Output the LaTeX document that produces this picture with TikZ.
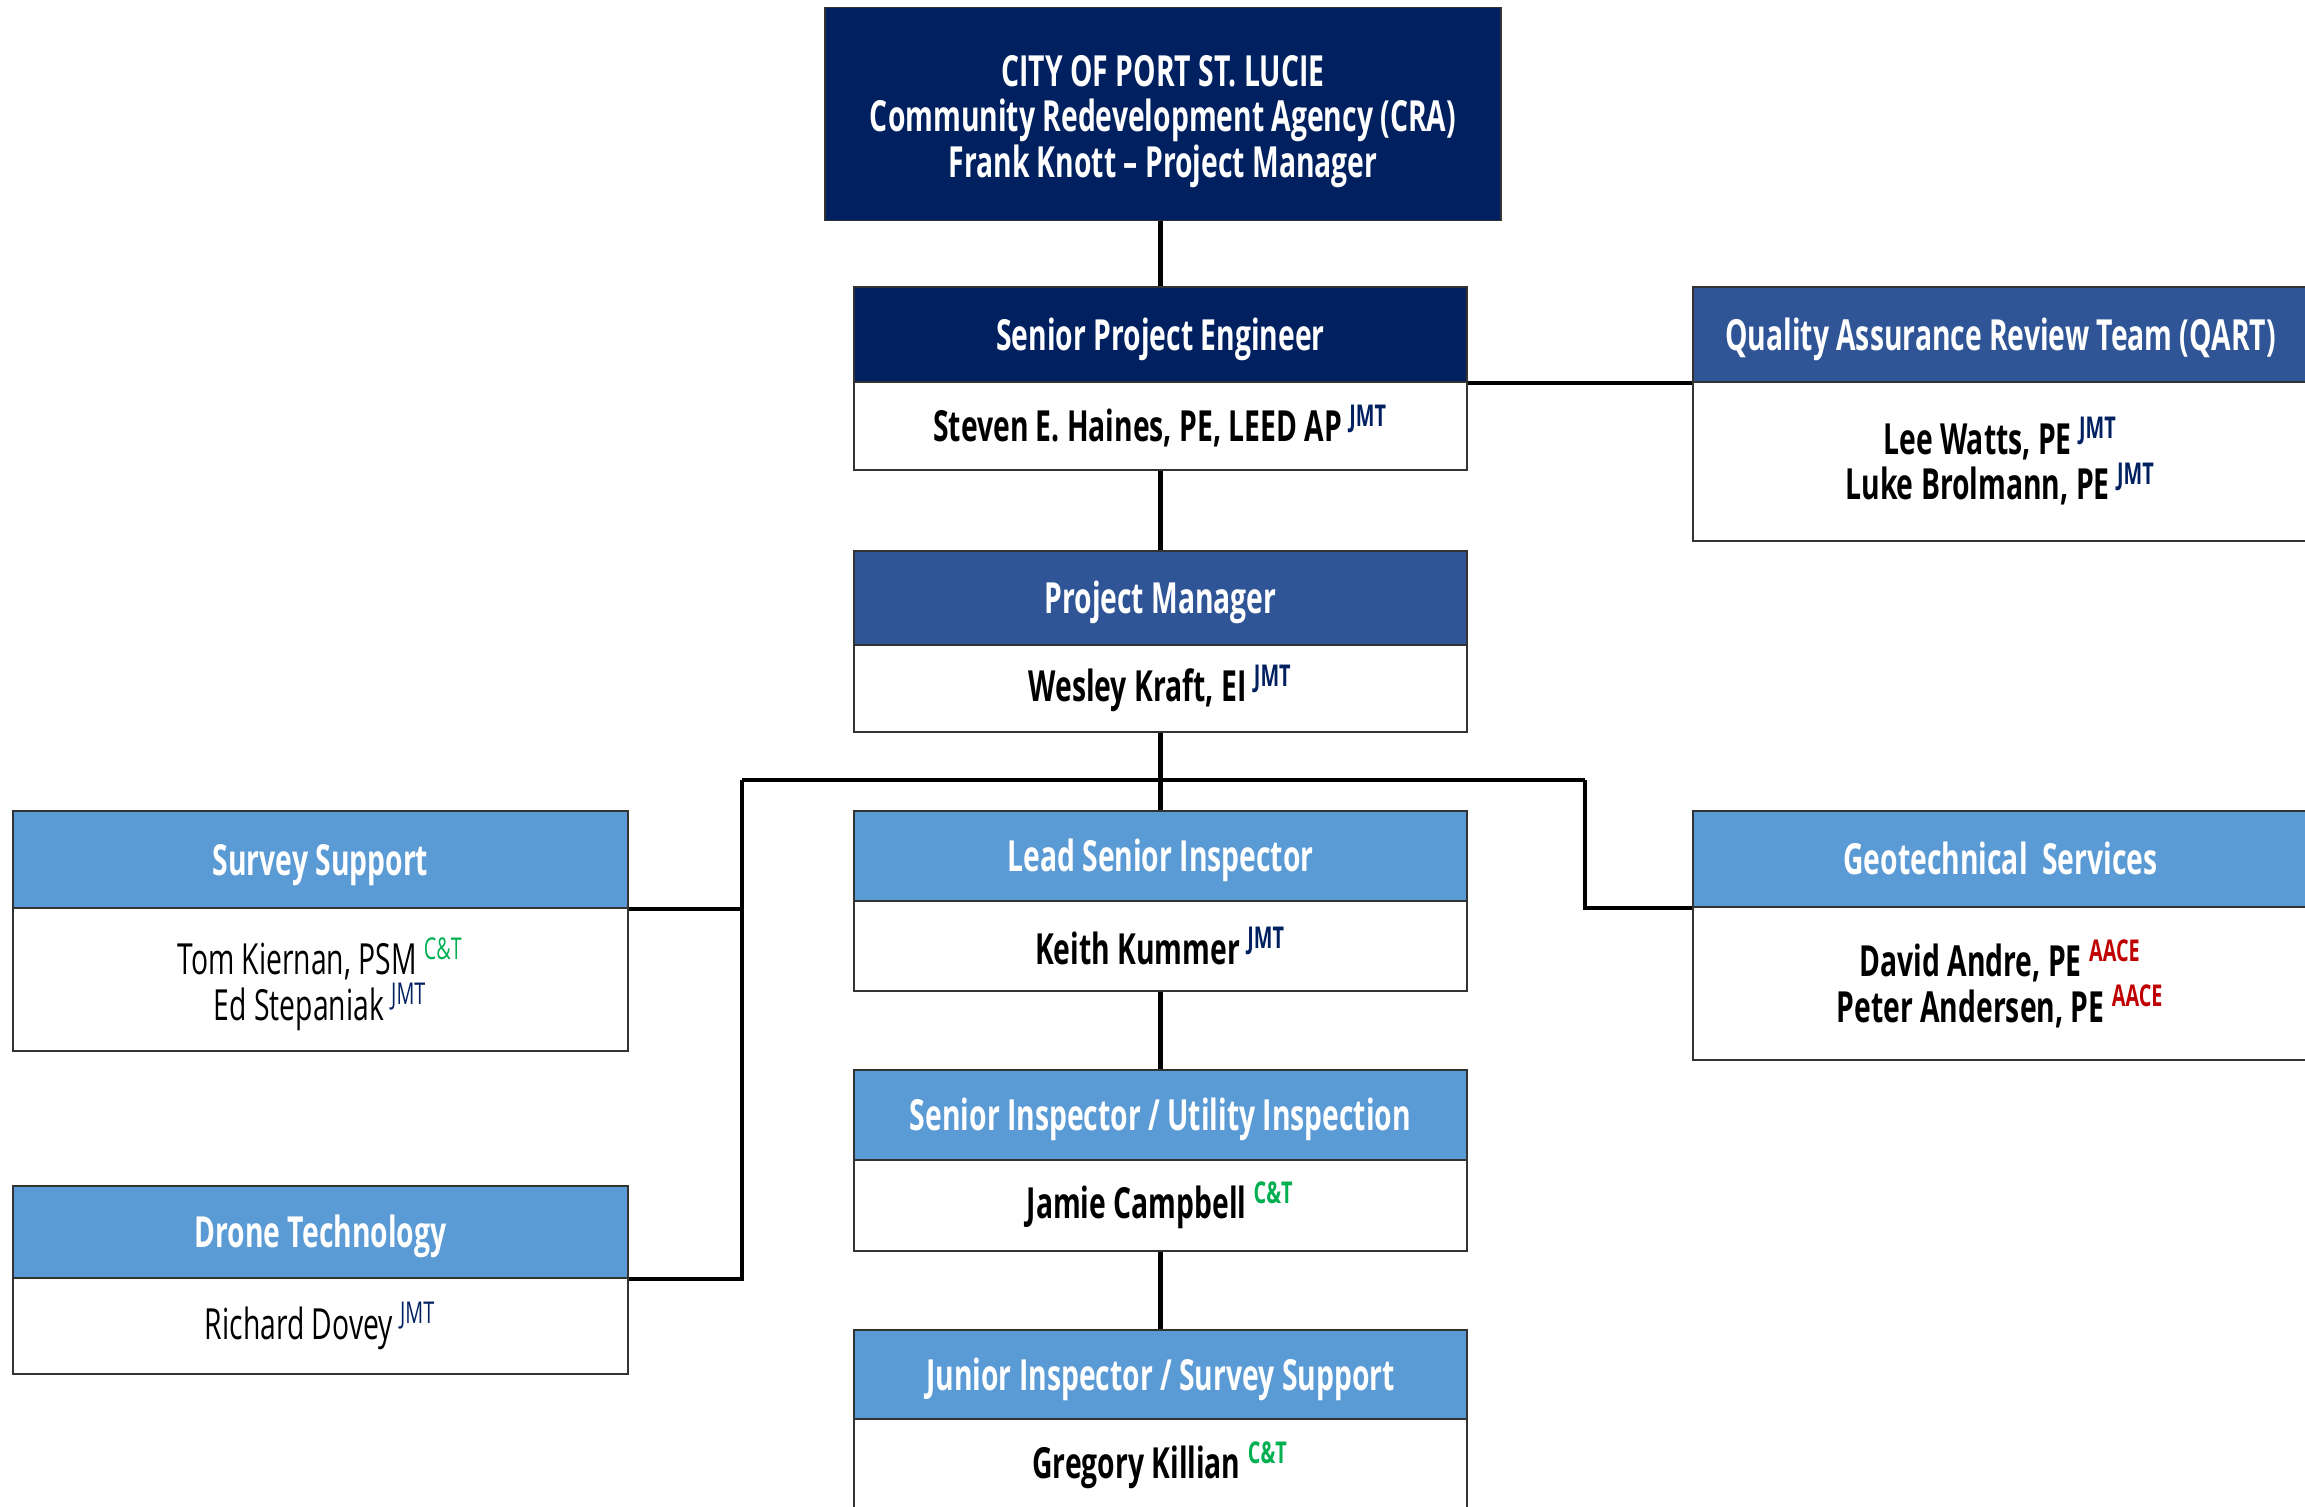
\documentclass[tikz,border=0pt]{standalone}
\usepackage{fontspec}
\setmainfont{Open Sans}[FakeStretch=0.66]
\usepackage{tikz}
\usepackage{xcolor}

\definecolor{navy}{HTML}{002060}
\definecolor{midblue}{HTML}{2F5597}
\definecolor{lightblue}{HTML}{5B9BD5}
\definecolor{ctgreen}{HTML}{00B050}
\definecolor{aacered}{HTML}{C00000}
\newcommand{\firm}[2]{\textsuperscript{\textcolor{#1}{#2}}}

\begin{document}
\begin{tikzpicture}[x=1cm,y=1cm,
  hdr/.style={draw=black!80, line width=0.5pt, text=white, font=\fontsize{12.2}{15}\selectfont\bfseries, minimum width=6.13cm, inner sep=0pt, text height=0.9em, text depth=0pt},
  body/.style={draw=black!80, line width=0.5pt, fill=white, text=black, font=\fontsize{12.2}{13}\selectfont\bfseries, minimum width=6.13cm, inner sep=0pt, align=center},
  link/.style={black, line width=1.3pt}]
  \useasboundingbox (0,0) rectangle (23.05,-15.07);

  % City / CRA
  \node[draw=black!80, line width=0.5pt, fill=navy, text=white, minimum width=6.76cm, minimum height=2.13cm, align=center, font=\fontsize{12.2}{12.9}\selectfont\bfseries] (city) at (11.63,-1.14) {\rule{0pt}{13pt}CITY OF PORT ST. LUCIE\\Community Redevelopment Agency (CRA)\\Frank Knott -- Project Manager};

  % Center column
  \node[hdr, fill=navy, minimum height=0.95cm] (speh) at (11.605,-3.345) {Senior Project Engineer};
  \node[body, minimum height=0.88cm] (speb) at (11.605,-4.26) {Steven E. Haines, PE, LEED AP \firm{navy}{JMT}};
  \node[hdr, fill=midblue, minimum height=0.94cm] (pmh) at (11.605,-5.98) {Project Manager};
  \node[body, minimum height=0.87cm] (pmb) at (11.605,-6.885) {Wesley Kraft, EI \firm{navy}{JMT}};
  \node[hdr, fill=lightblue, minimum height=0.90cm] (lsih) at (11.605,-8.56) {Lead Senior Inspector};
  \node[body, minimum height=0.90cm] (lsib) at (11.605,-9.46) {Keith Kummer \firm{navy}{JMT}};
  \node[hdr, fill=lightblue, minimum height=0.90cm] (siuh) at (11.605,-11.15) {Senior Inspector / Utility Inspection};
  \node[body, minimum height=0.91cm] (siub) at (11.605,-12.055) {Jamie Campbell \firm{ctgreen}{C\&T}};
  \node[hdr, fill=lightblue, minimum height=0.89cm] (jih) at (11.605,-13.745) {Junior Inspector / Survey Support};
  \node[body, minimum height=0.92cm] (jib) at (11.605,-14.65) {Gregory Killian \firm{ctgreen}{C\&T}};

  % Right column
  \node[hdr, fill=midblue, minimum width=6.15cm, minimum height=0.95cm] (qarth) at (20.005,-3.345) {Quality Assurance Review Team (QART)};
  \node[body, minimum width=6.15cm, minimum height=1.59cm] (qartb) at (20.005,-4.615) {Lee Watts, PE \firm{navy}{JMT}\\Luke Brolmann, PE \firm{navy}{JMT}};
  \node[hdr, fill=lightblue, minimum width=6.15cm, minimum height=0.96cm] (geoh) at (20.005,-8.59) {Geotechnical\ \ Services};
  \node[body, minimum width=6.15cm, minimum height=1.53cm] (geob) at (20.005,-9.835) {David Andre, PE \firm{aacered}{AACE}\\Peter Andersen, PE \firm{aacered}{AACE}};

  % Left column
  \node[hdr, fill=lightblue, minimum width=6.15cm, minimum height=0.97cm] (survh) at (3.205,-8.595) {Survey Support};
  \node[body, minimum width=6.15cm, minimum height=1.43cm, font=\fontsize{12.2}{13}\selectfont] (survb) at (3.205,-9.795) {\rule{0pt}{13pt}Tom Kiernan, PSM \firm{ctgreen}{C\&T}\\Ed Stepaniak \firm{navy}{JMT}};
  \node[hdr, fill=lightblue, minimum width=6.15cm, minimum height=0.92cm] (droneh) at (3.205,-12.32) {Drone Technology};
  \node[body, minimum width=6.15cm, minimum height=0.96cm, font=\fontsize{12.2}{13}\selectfont] (droneb) at (3.205,-13.26) {Richard Dovey \firm{navy}{JMT}};

  % Bus corners
  \coordinate (busL) at (7.42,-7.80);
  \coordinate (busR) at (15.85,-7.80);

  % Connections
  \draw[link] (speh.north |- city.south) -- (speh.north);
  \draw[link] (speb.south) -- (pmh.north);
  \draw[link] (speh.south east) -- (qarth.south west);
  \draw[link] (pmb.south) -- (pmb.south |- busL);
  \draw[link] (busL) -- (busR);
  \draw[link] (lsih.north |- busL) -- (lsih.north);
  \draw[link] (lsib.south) -- (siuh.north);
  \draw[link] (siub.south) -- (jih.north);
  \draw[link] (busL) -- (busL |- droneh.south) -- (droneh.south east);
  \draw[link] (survh.south east) -- (survh.south east -| busL);
  \draw[link] (busR) -- (busR |- geoh.south) -- (geoh.south west);
\end{tikzpicture}
\end{document}
